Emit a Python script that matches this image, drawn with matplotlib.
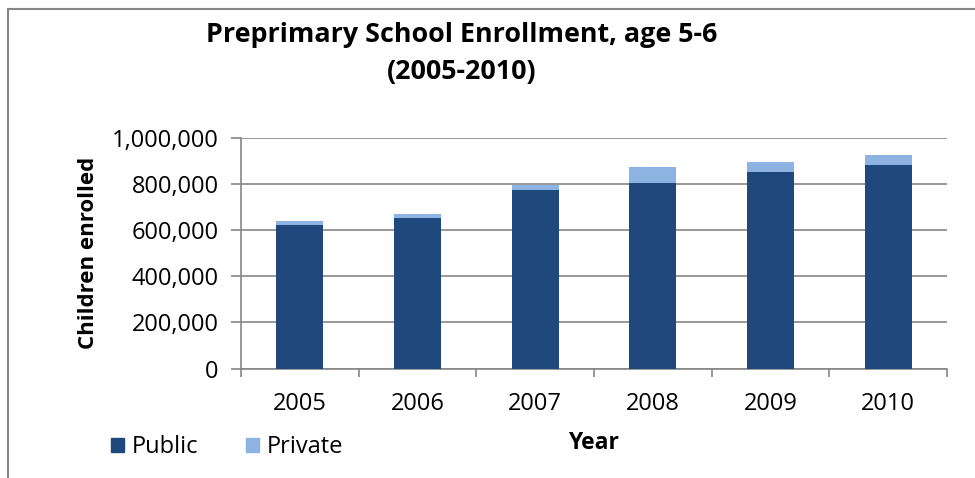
import numpy as np
import matplotlib
matplotlib.use("Agg")
import matplotlib.pyplot as plt
from matplotlib.lines import Line2D
from matplotlib.patches import Patch
from matplotlib.ticker import FuncFormatter

# values (children enrolled)
years = ["2005", "2006", "2007", "2008", "2009", "2010"]
public = [623000, 652000, 775000, 806000, 851000, 884000]
private = [17000, 18000, 21000, 68000, 45000, 43000]

dark = "#1F497D"
light = "#8DB3E2"
grid = "#868686"

plt.rcParams['font.family'] = ['Open Sans', 'DejaVu Sans']

fig = plt.figure(figsize=(9.75, 4.78), dpi=100)
ax = fig.add_axes([241/975, 1 - 368.5/478, 706/975, 230.5/478])

x = np.arange(len(years))
ax.bar(x, public, width=0.4, color=dark, zorder=3)
ax.bar(x, private, width=0.4, bottom=public, color=light, zorder=3)

ax.set_xlim(-0.5, len(years) - 0.5)
ax.set_ylim(0, 1000000)
ax.set_yticks(np.arange(0, 1000001, 200000))
ax.yaxis.set_major_formatter(FuncFormatter(lambda v, p: f"{int(v):,}"))
ax.set_xticks(x)
ax.set_xticklabels(years)
# category boundary ticks on the x axis
ax.set_xticks(np.arange(-0.5, len(years)), minor=True)
ax.tick_params(axis='x', which='major', length=0, pad=17, labelsize=17)
ax.tick_params(axis='x', which='minor', length=6, color=grid, width=1.2)
ax.tick_params(axis='y', length=7, color=grid, width=1.2, labelsize=17, pad=9)

ax.grid(axis='y', color=grid, linewidth=1.2, zorder=0)
for s in ['top', 'right']:
    ax.spines[s].set_visible(False)
ax.spines['left'].set_color(grid)
ax.spines['bottom'].set_color(grid)
ax.spines['left'].set_linewidth(1.2)
ax.spines['bottom'].set_linewidth(1.2)

fig.text(462/975, 1 - 35/478, "Preprimary School Enrollment, age 5-6",
         ha='center', va='center', fontsize=19.4, fontweight='bold')
fig.text(462/975, 1 - 72/478, "(2005-2010)",
         ha='center', va='center', fontsize=19.4, fontweight='bold')
fig.text(88/975, 1 - 253/478, "Children enrolled", rotation=90,
         ha='center', va='center', fontsize=16, fontweight='bold')
fig.text(593/975, 1 - 443/478, "Year", ha='center', va='center',
         fontsize=16.5, fontweight='bold')

handles = [Patch(color=dark, label="Public"), Patch(color=light, label="Private")]
fig.legend(handles=handles, loc='center left', bbox_to_anchor=(90/975, 1 - 447/478),
           ncol=2, frameon=False, fontsize=17, handlelength=0.55, handleheight=0.55,
           handletextpad=0.3, columnspacing=2.05)

# chart area frame (cropped on the right and bottom)
fig.add_artist(Line2D([8/975, 8/975], [0, 1 - 9/478], color=grid, linewidth=1.5))
fig.add_artist(Line2D([8/975, 1], [1 - 9/478, 1 - 9/478], color=grid, linewidth=1.5))

fig.savefig("out.png", dpi=100)
